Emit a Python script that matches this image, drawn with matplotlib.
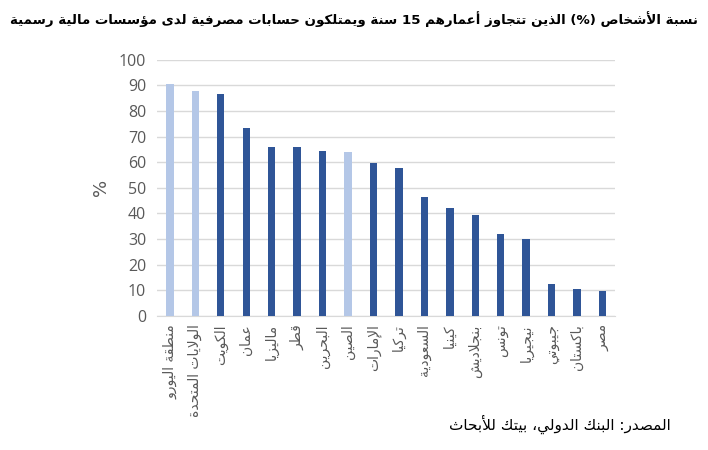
import matplotlib
matplotlib.use("Agg")
import matplotlib.pyplot as plt

# ---------------- data ----------------
countries = ["منطقة اليورو", "الولايات المتحدة", "الكويت", "عمان", "ماليزيا", "قطر",
             "البحرين", "الصين", "الإمارات", "تركيا", "السعودية", "كينيا",
             "بنجلاديش", "تونس", "نيجيريا", "جيبوتي", "باكستان", "مصر"]
values = [90.5, 88.0, 86.8, 73.5, 66.0, 65.8, 64.4, 64.0, 59.6, 57.8,
          46.5, 42.3, 39.5, 32.0, 30.0, 12.5, 10.5, 9.8]
highlight = [True, True, False, False, False, False, False, True, False, False,
             False, False, False, False, False, False, False, False]
yticks = [0, 10, 20, 30, 40, 50, 60, 70, 80, 90, 100]
title = "نسبة الأشخاص (%) الذين تتجاوز أعمارهم 15 سنة ويمتلكون حسابات مصرفية لدى مؤسسات مالية رسمية"
source = "المصدر: البنك الدولي، بيتك للأبحاث"
ylabel = "%"

# ---------------- Arabic shaping (presentation forms + visual order) ----------------
FORMS = {
    'ء': ('\uFE80',), 'آ': ('\uFE81', '\uFE82'), 'أ': ('\uFE83', '\uFE84'),
    'ؤ': ('\uFE85', '\uFE86'), 'إ': ('\uFE87', '\uFE88'),
    'ئ': ('\uFE89', '\uFE8A', '\uFE8B', '\uFE8C'), 'ا': ('\uFE8D', '\uFE8E'),
    'ب': ('\uFE8F', '\uFE90', '\uFE91', '\uFE92'), 'ة': ('\uFE93', '\uFE94'),
    'ت': ('\uFE95', '\uFE96', '\uFE97', '\uFE98'), 'ث': ('\uFE99', '\uFE9A', '\uFE9B', '\uFE9C'),
    'ج': ('\uFE9D', '\uFE9E', '\uFE9F', '\uFEA0'), 'ح': ('\uFEA1', '\uFEA2', '\uFEA3', '\uFEA4'),
    'خ': ('\uFEA5', '\uFEA6', '\uFEA7', '\uFEA8'), 'د': ('\uFEA9', '\uFEAA'),
    'ذ': ('\uFEAB', '\uFEAC'), 'ر': ('\uFEAD', '\uFEAE'), 'ز': ('\uFEAF', '\uFEB0'),
    'س': ('\uFEB1', '\uFEB2', '\uFEB3', '\uFEB4'), 'ش': ('\uFEB5', '\uFEB6', '\uFEB7', '\uFEB8'),
    'ص': ('\uFEB9', '\uFEBA', '\uFEBB', '\uFEBC'), 'ض': ('\uFEBD', '\uFEBE', '\uFEBF', '\uFEC0'),
    'ط': ('\uFEC1', '\uFEC2', '\uFEC3', '\uFEC4'), 'ظ': ('\uFEC5', '\uFEC6', '\uFEC7', '\uFEC8'),
    'ع': ('\uFEC9', '\uFECA', '\uFECB', '\uFECC'), 'غ': ('\uFECD', '\uFECE', '\uFECF', '\uFED0'),
    'ف': ('\uFED1', '\uFED2', '\uFED3', '\uFED4'), 'ق': ('\uFED5', '\uFED6', '\uFED7', '\uFED8'),
    'ك': ('\uFED9', '\uFEDA', '\uFEDB', '\uFEDC'), 'ل': ('\uFEDD', '\uFEDE', '\uFEDF', '\uFEE0'),
    'م': ('\uFEE1', '\uFEE2', '\uFEE3', '\uFEE4'), 'ن': ('\uFEE5', '\uFEE6', '\uFEE7', '\uFEE8'),
    'ه': ('\uFEE9', '\uFEEA', '\uFEEB', '\uFEEC'), 'و': ('\uFEED', '\uFEEE'),
    'ى': ('\uFEEF', '\uFEF0'), 'ي': ('\uFEF1', '\uFEF2', '\uFEF3', '\uFEF4'),
}
LAM_ALEF = {'آ': ('\uFEF5', '\uFEF6'), 'أ': ('\uFEF7', '\uFEF8'),
            'إ': ('\uFEF9', '\uFEFA'), 'ا': ('\uFEFB', '\uFEFC')}
MIRROR = {'(': ')', ')': '('}


def dual(c):
    return c in FORMS and len(FORMS[c]) == 4


def joinable(c):
    return c in FORMS and len(FORMS[c]) >= 2


def shape_ar(text):
    out = []
    i = 0
    n = len(text)
    while i < n:
        c = text[i]
        if c not in FORMS:
            out.append(c)
            i += 1
            continue
        prev = text[i - 1] if i > 0 else ''
        prev_j = dual(prev)
        if c == 'ل' and i + 1 < n and text[i + 1] in LAM_ALEF:
            out.append(LAM_ALEF[text[i + 1]][1 if prev_j else 0])
            i += 2
            continue
        nxt = text[i + 1] if i + 1 < n else ''
        next_j = dual(c) and joinable(nxt)
        f = FORMS[c]
        if prev_j and next_j:
            g = f[3]
        elif prev_j:
            g = f[1] if len(f) > 1 else f[0]
        elif next_j:
            g = f[2]
        else:
            g = f[0]
        out.append(g)
        i += 1
    s = ''.join(out)[::-1]
    res = []
    run = []
    for ch in s:
        if ch.isascii() and ch.isalnum():
            run.append(ch)
        else:
            if run:
                res.extend(run[::-1])
                run = []
            res.append(MIRROR.get(ch, ch))
    if run:
        res.extend(run[::-1])
    return ''.join(res)


# ---------------- plot ----------------
plt.rcParams['font.family'] = ['DejaVu Sans']
fig = plt.figure(figsize=(7.08, 4.5), dpi=100)
ax = fig.add_axes([0.222, 0.298, 0.647, 0.569])

light = '#B4C7E7'
dark = '#2F5597'
colors = [light if h else dark for h in highlight]
x = list(range(len(countries)))
ax.bar(x, values, width=0.29, color=colors, zorder=3)

ax.set_xlim(-0.5, len(countries) - 0.5)
ax.set_ylim(0, 100)
ax.set_yticks(yticks)
ax.set_yticklabels([str(t) for t in yticks], fontsize=11.5, color='#595959',
                   family=['Open Sans', 'DejaVu Sans'])
ax.yaxis.grid(True, color='#D9D9D9', linewidth=1, zorder=0)
ax.set_axisbelow(True)
for sp in ['top', 'right', 'left']:
    ax.spines[sp].set_visible(False)
ax.spines['bottom'].set_color('#D9D9D9')
ax.tick_params(axis='y', length=0, pad=8)
ax.tick_params(axis='x', length=0, pad=6)
ax.set_xticks(x)
ax.set_xticklabels([shape_ar(c) for c in countries], rotation=90, fontsize=10,
                   color='#595959', va='top', ha='center')
ax.set_ylabel(ylabel, fontsize=13, color='#595959', labelpad=6)

fig.text(0.5, 0.958, shape_ar(title), ha='center', va='center', fontsize=9.6,
         fontweight='bold', color='black')
fig.text(0.948, 0.058, shape_ar(source), ha='right', va='center', fontsize=11,
         color='black')

fig.savefig('out.png', dpi=100)
